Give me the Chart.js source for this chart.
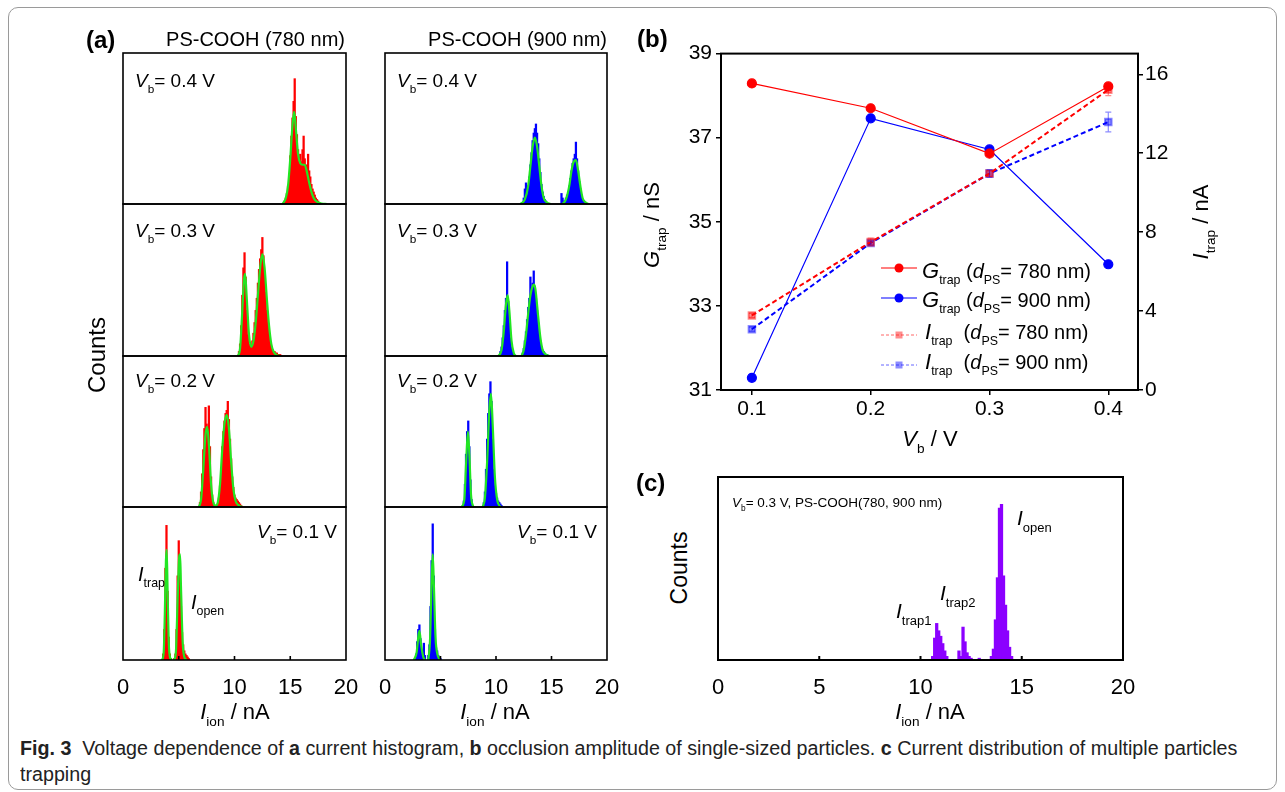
<!DOCTYPE html>
<html>
<head>
<meta charset="utf-8">
<title>Fig. 3</title>
<script src="https://cdn.jsdelivr.net/npm/chart.js@4.4.1/dist/chart.umd.min.js"></script>
<style>
  html, body { margin: 0; padding: 0; }
  body { width: 1285px; height: 792px; position: relative; overflow: hidden; background: #fff;
         font-family: "Liberation Sans", Arial, sans-serif; color: #000; }
  canvas { position: absolute; }
  .lbl { position: absolute; width: 0; height: 0; transform-origin: 0 0; }
  .lbl > span { position: absolute; left: 0; top: -0.8465em; line-height: 1; white-space: nowrap; }
  .s { font-size: 0.62em; position: relative; top: 0.5em; }
  .big { font-size: 1.1em; }
  .outline { position: absolute; left: 8px; top: 7px; width: 1267px; height: 781px;
             border: 1px solid #9a9a9a; border-radius: 10px; }
  .cap { position: absolute; left: 20px; font-family: "Liberation Sans Narrow", "Liberation Sans", sans-serif;
         font-size: 20px; color: #222; white-space: nowrap; line-height: 1; transform-origin: 0 0; }
  .legend { position: absolute; }
</style>
</head>
<body>
<div class="outline"></div>
<script>
// ---------------- Data --------------------------------------------------
// histogram bins: [ current (nA), counts (% of panel height) ]
// fit curves:     [ current (nA), fitted counts ], null breaks the curve

const ionTicks = [ 0, 5, 10, 15, 20 ] ;
const vbTicks  = [ 0.1, 0.2, 0.3, 0.4 ] ;
const gTicks   = [ 31, 33, 35, 37, 39 ] ;
const iTicks   = [ 0, 4, 8, 12, 16 ] ;

// PS-COOH 780 nm
const hist780_04 = [
  [14.5,2],[14.6,4],[14.7,7],[14.8,12],[14.9,20],[15.0,32],[15.1,45],[15.2,57],[15.3,68],[15.4,83],
  [15.5,58],[15.6,46],[15.7,36],[15.8,31],[15.9,33],[16.0,28],[16.1,36],[16.2,45],[16.3,30],[16.4,26],
  [16.5,24],[16.6,33],[16.7,22],[16.8,18],[16.9,13],[17.0,10],[17.1,8],[17.2,6],[17.3,4],[17.4,3],
  [17.5,2],[17.6,1] ] ;
const fit780_04 = [
  [14.3,0],[14.6,4],[14.8,12],[15.0,30],[15.2,52],[15.35,61],[15.5,50],[15.7,33],[15.9,27],[16.1,26],
  [16.3,26],[16.5,21],[16.7,14],[16.9,8],[17.1,4],[17.4,1.5],[17.8,0.3],[18.3,0] ] ;

const hist780_03 = [
  [10.4,3],[10.5,8],[10.6,20],[10.7,40],[10.8,58],[10.9,68],[11.0,52],[11.1,30],[11.2,14],[11.3,8],
  [11.4,6],[11.5,7],[11.6,10],[11.7,15],[11.8,22],[11.9,30],[12.0,38],[12.1,48],[12.2,57],[12.3,64],
  [12.4,70],[12.5,78],[12.6,66],[12.7,55],[12.8,42],[12.9,30],[13.0,22],[13.1,14],[13.2,9],[13.3,6],
  [13.4,4],[13.5,3],[13.6,3],[13.7,2],[13.8,2],[13.9,1],[14.0,1],[14.1,1] ] ;
const fit780_03 = [
  [10.3,0],[10.5,5],[10.7,30],[10.85,50],[10.95,54],[11.1,38],[11.3,14],[11.5,6],[11.7,10],[11.9,22],
  [12.1,40],[12.3,58],[12.5,67],[12.7,58],[12.9,38],[13.1,20],[13.3,8],[13.5,3],[13.8,0.5],[14.1,0] ] ;

const hist780_02 = [
  [6.9,3],[7.0,10],[7.1,22],[7.2,38],[7.3,52],[7.4,66],[7.5,55],[7.6,50],[7.7,67],[7.8,40],
  [7.9,20],[8.0,8],[8.1,3],[8.2,1],[8.3,1],[8.4,1],[8.5,2],[8.6,6],[8.7,14],[8.8,26],
  [8.9,40],[9.0,50],[9.1,57],[9.2,62],[9.3,64],[9.4,70],[9.5,58],[9.6,45],[9.7,32],[9.8,20],
  [9.9,13],[10.0,8],[10.1,6],[10.2,5],[10.3,4],[10.4,3],[10.5,2],[10.6,1] ] ;
const fit780_02 = [
  [6.8,0],[7.0,5],[7.2,25],[7.4,48],[7.55,53],[7.7,42],[7.9,15],[8.1,3],[8.3,1],[8.5,3],
  [8.7,15],[8.9,38],[9.1,55],[9.3,61],[9.5,52],[9.7,30],[9.9,12],[10.1,4],[10.4,1],[10.7,0] ] ;

const hist780_01 = [
  [3.6,4],[3.7,20],[3.8,60],[3.9,88],[4.0,45],[4.1,15],[4.2,4],[4.3,1],[4.6,1],[4.7,4],
  [4.8,20],[4.9,55],[5.0,78],[5.1,60],[5.2,35],[5.3,18],[5.4,10],[5.5,6],[5.6,4],[5.7,3],
  [5.8,2],[5.9,1] ] ;
const fit780_01 = [
  [3.5,0],[3.65,5],[3.75,30],[3.85,65],[3.92,72],[4.0,45],[4.1,12],[4.25,1],[4.4,0],[4.5,null],
  [4.6,0],[4.75,6],[4.9,40],[5.05,68],[5.12,69],[5.2,48],[5.35,12],[5.5,2],[5.7,0] ] ;

// PS-COOH 900 nm
const hist900_04 = [
  [12.5,4],[12.6,10],[12.7,14],[12.8,6],[12.9,12],[13.0,18],[13.1,26],[13.2,34],[13.3,42],[13.4,47],
  [13.5,50],[13.6,53],[13.7,47],[13.8,40],[13.9,30],[14.0,21],[14.1,13],[14.2,8],[14.3,5],[14.4,3],
  [14.5,2],[14.6,1],[15.9,7],[16.0,4],[16.1,2],[16.2,2],[16.3,4],[16.4,6],[16.5,8],[16.6,12],
  [16.7,17],[16.8,22],[16.9,27],[17.0,30],[17.1,33],[17.2,41],[17.3,30],[17.4,22],[17.5,15],[17.6,10],
  [17.7,6],[17.8,3],[17.9,2],[18.0,1] ] ;
const fit900_04 = [
  [12.2,0],[12.6,3],[12.9,12],[13.1,25],[13.3,38],[13.5,44],[13.7,38],[13.9,25],[14.1,12],[14.3,4],
  [14.6,1],[14.9,0],[15.5,null],[16.0,0],[16.3,3],[16.6,12],[16.8,22],[17.0,28],[17.2,29],[17.4,22],
  [17.6,12],[17.8,4],[18.1,1],[18.3,0] ] ;

const hist900_03 = [
  [10.4,3],[10.5,6],[10.6,12],[10.7,20],[10.8,30],[10.9,38],[11.0,62],[11.1,36],[11.2,22],[11.3,12],
  [11.4,6],[11.5,3],[11.6,1],[12.4,2],[12.5,5],[12.6,10],[12.7,16],[12.8,24],[12.9,32],[13.0,38],
  [13.1,52],[13.2,44],[13.3,48],[13.4,56],[13.5,46],[13.6,38],[13.7,30],[13.8,22],[13.9,15],[14.0,10],
  [14.1,6],[14.2,4],[14.3,3],[14.4,2],[14.5,1],[14.6,1] ] ;
const fit900_03 = [
  [10.2,0],[10.5,4],[10.7,16],[10.9,34],[11.05,40],[11.2,30],[11.4,10],[11.6,2],[11.8,0],[12.0,null],
  [12.3,0],[12.5,4],[12.7,14],[12.9,28],[13.1,40],[13.3,46],[13.42,47],[13.55,44],[13.8,26],[14.0,12],
  [14.2,4],[14.5,1],[14.8,0] ] ;

const hist900_02 = [
  [7.1,4],[7.2,15],[7.3,35],[7.4,50],[7.5,57],[7.6,40],[7.7,18],[7.8,5],[7.9,1],[8.9,3],
  [9.0,10],[9.1,25],[9.2,45],[9.3,62],[9.4,75],[9.5,83],[9.6,70],[9.7,45],[9.8,25],[9.9,14],
  [10.0,9],[10.1,6],[10.2,4],[10.3,3],[10.4,2],[10.5,1] ] ;
const fit900_02 = [
  [6.9,0],[7.15,5],[7.3,28],[7.47,50],[7.6,35],[7.75,8],[7.95,0],[8.4,null],[8.8,0],[9.0,6],
  [9.2,30],[9.4,64],[9.55,75],[9.7,55],[9.9,20],[10.1,5],[10.4,0] ] ;

const hist900_01 = [
  [2.8,4],[2.9,12],[3.0,20],[3.1,23],[3.2,14],[3.3,6],[3.4,3],[3.5,11],[3.6,3],[3.9,3],
  [4.0,10],[4.1,35],[4.2,65],[4.3,89],[4.4,55],[4.5,20],[4.6,8],[4.7,6],[4.8,3],[4.9,2],
  [5.0,1] ] ;
const fit900_01 = [
  [2.6,0],[2.85,5],[3.0,15],[3.1,19],[3.25,10],[3.45,2],[3.6,0],[3.75,null],[3.9,0],[4.05,12],
  [4.2,50],[4.3,69],[4.4,50],[4.55,15],[4.75,3],[5.0,0] ] ;

// mixed 780 + 900 nm trapping at 0.3 V
const histMixed = [
  [10.6,2],[10.7,12],[10.8,20],[10.9,16],[11.0,13],[11.1,9],[11.2,5],[11.3,2],[11.9,5],[12.0,2],
  [12.1,18],[12.2,10],[12.3,4],[12.4,2],[12.5,1],[12.9,1],[13.5,2],[13.6,6],[13.7,22],[13.8,45],
  [13.9,83],[14.0,85],[14.1,46],[14.2,30],[14.3,16],[14.4,7],[14.5,2] ] ;

// trapping conductance / current vs bias voltage
const vbValues     = [ 0.1, 0.2, 0.3, 0.4 ] ;
const gTrap780     = [ 38.29, 37.70, 36.62, 38.22 ] ;
const gTrap900     = [ 31.29, 37.46, 36.72, 33.99 ] ;
const iTrap780     = [ 3.78, 7.50, 10.97, 15.22 ] ;
const iTrap900     = [ 3.08, 7.45, 10.97, 13.58 ] ;
const iTrap780Err  = [ 0.10, 0.20, 0.15, 0.30 ] ;
const iTrap900Err  = [ 0.10, 0.10, 0.20, 0.50 ] ;

// ---------------- Styles -------------------------------------------------
const RED    = '#ff0000' ;
const BLUE   = '#0000ff' ;
const FIT    = '#22e622' ;
const VIOLET = '#8b00ff' ;
const RED_T  = 'rgba(255,0,0,0.45)' ;
const BLUE_T = 'rgba(0,0,255,0.45)' ;

Chart.defaults.font.family = '"Liberation Sans", Arial, sans-serif' ;
Chart.defaults.color = '#000' ;

const toXY = arr => arr.map( ( [ x, y ] ) => ( { x : x, y : y } ) ) ;
const fixTicks = list => ( s => { s.ticks = list.map( v => ( { value : v } ) ) ; } ) ;

// black box round the plot area, optional inward ticks on the x axis
const framePlugin = {
  id : 'frame',
  afterDraw( chart, args, opts ) {
    const ctx = chart.ctx ;
    const a   = chart.chartArea ;
    ctx.save() ;
    ctx.strokeStyle = '#000' ;
    ctx.lineWidth = opts.width || 1.6 ;
    ctx.strokeRect( a.left, a.top, a.right - a.left, a.bottom - a.top ) ;
    if( opts.inTicks ) {
      const sx = chart.scales.x ;
      sx.ticks.forEach( t => {
        if( t.value <= sx.min || t.value >= sx.max ) return ;
        const px = sx.getPixelForValue( t.value ) ;
        ctx.beginPath() ;
        ctx.moveTo( px, a.bottom ) ;
        ctx.lineTo( px, a.bottom - opts.inTicks ) ;
        ctx.stroke() ;
      } ) ;
    }
    ctx.restore() ;
  }
} ;

// vertical error bars from dataset.errors
const errorBarPlugin = {
  id : 'errorBars',
  afterDatasetsDraw( chart ) {
    const ctx = chart.ctx ;
    chart.data.datasets.forEach( ( ds, i ) => {
      if( !ds.errors ) return ;
      const ys = chart.scales[ ds.yAxisID ] ;
      const xs = chart.scales.x ;
      ctx.save() ;
      ctx.strokeStyle = ds.pointBorderColor ;
      ctx.lineWidth = 1.2 ;
      ds.data.forEach( ( p, j ) => {
        const x  = xs.getPixelForValue( p.x ) ;
        const y1 = ys.getPixelForValue( p.y + ds.errors[j] ) ;
        const y2 = ys.getPixelForValue( p.y - ds.errors[j] ) ;
        ctx.beginPath() ;
        ctx.moveTo( x, y1 ) ; ctx.lineTo( x, y2 ) ;
        ctx.moveTo( x - 3, y1 ) ; ctx.lineTo( x + 3, y1 ) ;
        ctx.moveTo( x - 3, y2 ) ; ctx.lineTo( x + 3, y2 ) ;
        ctx.stroke() ;
      } ) ;
      ctx.restore() ;
    } ) ;
  }
} ;

function makeCanvas( left, top, width, height ) {
  const cv = document.createElement( 'canvas' ) ;
  cv.width = width ; cv.height = height ;
  cv.style.left = left + 'px' ; cv.style.top = top + 'px' ;
  document.body.appendChild( cv ) ;
  return cv ;
}

// one histogram panel; box = plot area [ left, top, right, bottom ]
function makeHist( box, hist, fit, color, withAxis, barW, frameW ) {
  const padX = 20, padT = 4 ;
  const padB  = withAxis ? 0 : 4 ;
  const axisH = withAxis ? 44 : 0 ;
  const [ l, t, r, b ] = box ;
  const cv = makeCanvas( l - padX, t - padT, r - l + 2 * padX, b - t + padT + padB + axisH ) ;

  const datasets = [
    {
      type        : 'bar',
      data        : toXY( hist ),
      backgroundColor : color,
      borderWidth : 0,
      barThickness: barW,
      order       : 2,
    },
  ] ;
  if( fit ) {
    datasets.unshift( {
      type        : 'line',
      data        : toXY( fit ),
      borderColor : FIT,
      borderWidth : 2.2,
      pointRadius : 0,
      cubicInterpolationMode : 'monotone',
      spanGaps    : false,
      order       : 1,
    } ) ;
  }

  return new Chart( cv, {
    type : 'bar',
    data : { datasets : datasets },
    options : {
      responsive : false, animation : false, devicePixelRatio : 1, events : [],
      layout : { padding : { left : padX, right : padX, top : padT, bottom : padB } },
      plugins : {
        legend  : { display : false },
        tooltip : { enabled : false },
        frame   : { width : frameW, inTicks : withAxis ? 4 : 0 },
      },
      scales : {
        x : {
          type : 'linear', min : 0, max : 20, offset : false, display : withAxis,
          afterBuildTicks : fixTicks( ionTicks ),
          afterFit : s => { s.height = axisH ; },
          grid   : { display : false, offset : false },
          border : { display : false },
          ticks  : { font : { size : 22 }, padding : 7, maxRotation : 0, autoSkip : false,
                     callback : v => String( v ) },
        },
        y : { display : false, min : 0, max : 100 },
      },
    },
    plugins : [ framePlugin ],
  } ) ;
}

// ---------------- Panel (a) ---------------------------------------------
const rowsY   = [ 53, 204, 356, 507, 660 ] ;
const col780  = [ 123, 346 ] ;
const col900  = [ 385, 607 ] ;
const panels780 = [ [ hist780_04, fit780_04 ], [ hist780_03, fit780_03 ], [ hist780_02, fit780_02 ], [ hist780_01, fit780_01 ] ] ;
const panels900 = [ [ hist900_04, fit900_04 ], [ hist900_03, fit900_03 ], [ hist900_02, fit900_02 ], [ hist900_01, fit900_01 ] ] ;

for( let i = 0 ; i < 4 ; i++ ) {
  const last = ( i === 3 ) ;
  makeHist( [ col780[0], rowsY[i], col780[1], rowsY[i+1] ], panels780[i][0], panels780[i][1], RED,  last, 1.6, 1.6 ) ;
  makeHist( [ col900[0], rowsY[i], col900[1], rowsY[i+1] ], panels900[i][0], panels900[i][1], BLUE, last, 1.6, 1.6 ) ;
}

// ---------------- Panel (c) ---------------------------------------------
makeHist( [ 718, 477, 1123, 660 ], histMixed, null, VIOLET, true, 2.6, 2 ) ;

// ---------------- Panel (b) ---------------------------------------------
const cvB = makeCanvas( 661, 37, 537, 397 ) ;
const tickGrid = { drawOnChartArea : false, tickLength : 5, color : '#000', lineWidth : 1.5 } ;

new Chart( cvB, {
  type : 'line',
  data : {
    datasets : [
      {
        data : toXY( vbValues.map( ( v, i ) => [ v, gTrap780[i] ] ) ),
        yAxisID : 'yG', borderColor : RED, borderWidth : 1.2,
        pointStyle : 'circle', pointRadius : 4.5,
        pointBackgroundColor : RED, pointBorderColor : RED,
      },
      {
        data : toXY( vbValues.map( ( v, i ) => [ v, gTrap900[i] ] ) ),
        yAxisID : 'yG', borderColor : BLUE, borderWidth : 1.2,
        pointStyle : 'circle', pointRadius : 4.5,
        pointBackgroundColor : BLUE, pointBorderColor : BLUE,
      },
      {
        data : toXY( vbValues.map( ( v, i ) => [ v, iTrap780[i] ] ) ),
        yAxisID : 'yI', borderColor : RED, borderWidth : 2, borderDash : [ 5, 3 ],
        pointStyle : 'rect', pointRadius : 4.6,
        pointBackgroundColor : RED_T, pointBorderColor : RED_T,
        errors : iTrap780Err,
      },
      {
        data : toXY( vbValues.map( ( v, i ) => [ v, iTrap900[i] ] ) ),
        yAxisID : 'yI', borderColor : BLUE, borderWidth : 2, borderDash : [ 5, 3 ],
        pointStyle : 'rect', pointRadius : 4.6,
        pointBackgroundColor : BLUE_T, pointBorderColor : BLUE_T,
        errors : iTrap900Err,
      },
    ],
  },
  options : {
    responsive : false, animation : false, devicePixelRatio : 1, events : [],
    layout : { padding : { left : 0, right : 0, top : 16, bottom : 0 } },
    plugins : {
      legend  : { display : false },
      tooltip : { enabled : false },
      frame   : { width : 2 },
    },
    scales : {
      x : {
        type : 'linear', min : 0.074, max : 0.425,
        afterBuildTicks : fixTicks( vbTicks ),
        afterFit : s => { s.height = 44 ; },
        grid : tickGrid, border : { display : false },
        ticks : { font : { size : 21 }, padding : 2, maxRotation : 0, autoSkip : false,
                  callback : v => v.toFixed( 1 ) },
      },
      yG : {
        position : 'left', min : 31, max : 39,
        afterBuildTicks : fixTicks( gTicks ),
        afterFit : s => { s.width = 60 ; },
        grid : tickGrid, border : { display : false },
        ticks : { font : { size : 21 }, padding : 4, callback : v => String( v ) },
      },
      yI : {
        position : 'right', min : 0, max : 17.05,
        afterBuildTicks : fixTicks( iTicks ),
        afterFit : s => { s.width = 60 ; },
        grid : tickGrid, border : { display : false },
        ticks : { font : { size : 21 }, padding : 2, callback : v => String( v ) },
      },
    },
  },
  plugins : [ framePlugin, errorBarPlugin ],
} ) ;

// legend of panel (b)
const legendRows = [
  { sym : 'G', d : '780', color : RED,  dash : false, y : 277 },
  { sym : 'G', d : '900', color : BLUE, dash : false, y : 306 },
  { sym : 'I', d : '780', color : RED,  dash : true,  y : 338 },
  { sym : 'I', d : '900', color : BLUE, dash : true,  y : 368 },
] ;
const legendSampleY = [ 268, 298, 335, 365 ] ;

legendRows.forEach( ( row, i ) => {
  const svgNS = 'http://www.w3.org/2000/svg' ;
  const svg = document.createElementNS( svgNS, 'svg' ) ;
  svg.setAttribute( 'width', 36 ) ; svg.setAttribute( 'height', 14 ) ;
  svg.setAttribute( 'class', 'legend' ) ;
  svg.style.left = '881px' ;
  svg.style.top  = ( legendSampleY[i] - 7 ) + 'px' ;
  const line = document.createElementNS( svgNS, 'line' ) ;
  line.setAttribute( 'x1', 0 ) ; line.setAttribute( 'x2', 36 ) ;
  line.setAttribute( 'y1', 7 ) ; line.setAttribute( 'y2', 7 ) ;
  line.setAttribute( 'stroke', row.color ) ;
  line.setAttribute( 'stroke-width', row.dash ? 1 : 1.2 ) ;
  if( row.dash ) line.setAttribute( 'stroke-dasharray', '3 2' ) ;
  if( row.dash ) line.setAttribute( 'stroke-opacity', 0.6 ) ;
  svg.appendChild( line ) ;
  let mk ;
  if( row.dash ) {
    mk = document.createElementNS( svgNS, 'rect' ) ;
    mk.setAttribute( 'x', 14.5 ) ; mk.setAttribute( 'y', 3.5 ) ;
    mk.setAttribute( 'width', 7 ) ; mk.setAttribute( 'height', 7 ) ;
    mk.setAttribute( 'fill', row.color ) ; mk.setAttribute( 'fill-opacity', 0.45 ) ;
  } else {
    mk = document.createElementNS( svgNS, 'circle' ) ;
    mk.setAttribute( 'cx', 18 ) ; mk.setAttribute( 'cy', 7 ) ; mk.setAttribute( 'r', 4.5 ) ;
    mk.setAttribute( 'fill', row.color ) ;
  }
  svg.appendChild( mk ) ;
  document.body.appendChild( svg ) ;
} ) ;

// ---------------- Text --------------------------------------------------
function addText( html, x, y, size, align, rotate ) {
  const outer = document.createElement( 'div' ) ;
  outer.className = 'lbl' ;
  outer.style.left = x + 'px' ;
  outer.style.top  = y + 'px' ;
  if( rotate ) outer.style.transform = 'rotate(' + rotate + 'deg)' ;
  const inner = document.createElement( 'span' ) ;
  inner.innerHTML = html ;
  inner.style.fontSize = size + 'px' ;
  if( align === 'center' ) inner.style.transform = 'translateX(-50%)' ;
  if( align === 'right' )  inner.style.transform = 'translateX(-100%)' ;
  outer.appendChild( inner ) ;
  document.body.appendChild( outer ) ;
}

const vb   = v => '<i>V</i><span class="s">b</span>= ' + v + ' V' ;
const sub  = ( s, t ) => '<i>' + s + '</i><span class="s">' + t + '</span>' ;
const ion  = sub( 'I', 'ion' ) + ' / nA' ;

// panel (a)
addText( '<b>(a)</b>', 86, 48, 24 ) ;
addText( 'PS-COOH (780 nm)', 345, 46, 20, 'right' ) ;
addText( 'PS-COOH (900 nm)', 607, 46, 20, 'right' ) ;
addText( vb( '0.4' ), 135, 87, 19 ) ;
addText( vb( '0.3' ), 135, 237, 19 ) ;
addText( vb( '0.2' ), 135, 387, 19 ) ;
addText( vb( '0.1' ), 337, 538, 19, 'right' ) ;
addText( vb( '0.4' ), 397, 87, 19 ) ;
addText( vb( '0.3' ), 397, 237, 19 ) ;
addText( vb( '0.2' ), 397, 387, 19 ) ;
addText( vb( '0.1' ), 597, 538, 19, 'right' ) ;
addText( sub( 'I', 'trap' ), 138, 581, 20 ) ;
addText( sub( 'I', 'open' ), 191, 609, 20 ) ;
addText( 'Counts', 105, 355, 24, 'center', -90 ) ;
addText( ion, 235, 720, 22, 'center' ) ;
addText( ion, 495, 720, 22, 'center' ) ;

// panel (b)
addText( '<b>(b)</b>', 637, 47, 24 ) ;
addText( sub( 'G', 'trap' ) + ' / nS', 660, 225, 22, 'center', -90 ) ;
addText( sub( 'I', 'trap' ) + ' / nA', 1209, 222, 22, 'center', -90 ) ;
addText( sub( 'V', 'b' ) + ' / V', 930, 447, 22, 'center' ) ;
legendRows.forEach( row => {
  const lead = row.sym === 'G'
    ? '<i class="big">G</i><span class="s">trap</span> ('
    : '<i class="big">I</i><span class="s">trap</span>&nbsp; (' ;
  addText( lead + '<i>d</i><span class="s">PS</span>= ' + row.d + ' nm)',
           row.sym === 'G' ? 922 : 925, row.y, 20 ) ;
} ) ;

// panel (c)
addText( '<b>(c)</b>', 636, 491, 24 ) ;
addText( 'Counts', 687, 568, 23, 'center', -90 ) ;
addText( ion, 930, 720, 22, 'center' ) ;
addText( vb( '0.3' ).replace( ' V', ' V, PS-COOH(780, 900 nm)' ), 732, 507, 13.5 ) ;
addText( sub( 'I', 'trap1' ), 896, 618, 21 ) ;
addText( sub( 'I', 'trap2' ), 940, 600, 21 ) ;
addText( sub( 'I', 'open' ), 1017, 525, 21 ) ;

// caption
const cap1 = document.createElement( 'div' ) ;
cap1.className = 'cap' ;
cap1.style.top = ( 755 - 16.9 ) + 'px' ;
cap1.innerHTML = '<b>Fig. 3</b>&nbsp; Voltage dependence of <b>a</b> current histogram, <b>b</b> occlusion amplitude of single-sized particles. <b>c</b> Current distribution of multiple particles' ;
document.body.appendChild( cap1 ) ;
const cap2 = document.createElement( 'div' ) ;
cap2.className = 'cap' ;
cap2.style.top = ( 781 - 16.9 ) + 'px' ;
cap2.textContent = 'trapping' ;
document.body.appendChild( cap2 ) ;
const k = 1217 / cap1.offsetWidth ;
cap1.style.transform = 'scaleX(' + k + ')' ;
cap2.style.transform = 'scaleX(' + k + ')' ;
</script>
</body>
</html>
